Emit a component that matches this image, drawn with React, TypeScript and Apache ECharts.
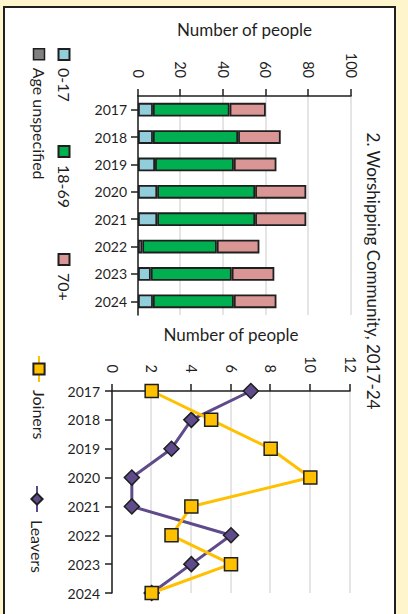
import React, { useEffect, useRef } from "react";
import * as echarts from "echarts";

const years = ["2017", "2018", "2019", "2020", "2021", "2022", "2023", "2024"];
const age0to17 = [7, 7, 8, 9, 9, 2, 6, 7];
const age18to69 = [36, 40, 37, 46, 46, 35, 38, 38];
const age70plus = [17, 20, 20, 24, 24, 20, 20, 20];
const ageUnspecified = [0, 0, 0, 0, 0, 0, 0, 0];
const joiners = [2, 5, 8, 10, 4, 3, 6, 2];
const leavers = [7, 4, 3, 1, 1, 6, 4, 2];

const TITLE = "2. Worshipping Community, 2017-24";
const FONT = "Lato, 'Open Sans', sans-serif";
const INK = "#1f1f1f";

export default function App() {
  const ref = useRef<HTMLDivElement>(null);

  useEffect(() => {
    if (!ref.current) return;
    const chart = echarts.init(ref.current, undefined, { renderer: "svg" });

    const catAxis = (gridIndex: number, boundaryGap: boolean, margin: number) => ({
      type: "category",
      gridIndex,
      data: years,
      boundaryGap,
      axisLine: { show: true, lineStyle: { color: INK, width: 1.5 } },
      axisTick: { show: true, alignWithLabel: true, length: 7, lineStyle: { color: INK, width: 1.5 } },
      axisLabel: { rotate: 90, margin, color: INK, fontSize: 14, fontFamily: FONT },
      splitLine: { show: false },
    });

    const valAxis = (gridIndex: number, max: number, interval: number, nameGap: number) => ({
      type: "value",
      gridIndex,
      min: 0,
      max,
      interval,
      name: "Number of people",
      nameLocation: "middle",
      nameRotate: 90,
      nameGap,
      nameTextStyle: { color: INK, fontSize: 17, fontFamily: FONT },
      axisLine: { show: true, lineStyle: { color: INK, width: 1.5 } },
      axisTick: { show: true, length: 7, lineStyle: { color: INK, width: 1.5 } },
      axisLabel: { margin: 18, color: INK, fontSize: 14.5, fontFamily: FONT },
      splitLine: { show: true, lineStyle: { color: "#dcdcdc", width: 1.5 } },
    });

    const barStyle = (color: string) => ({
      color,
      borderColor: INK,
      borderWidth: 1.8,
    });

    const legendBase = {
      orient: "horizontal",
      padding: 0,
      itemGap: 0,
      textStyle: { color: INK, fontSize: 16, fontFamily: FONT, padding: [0, 0, 0, 3] },
    };

    chart.setOption({
      animation: false,
      backgroundColor: "#FFF5CC",
      graphic: [
        {
          type: "rect",
          z: -10,
          shape: { x: 7, y: 13, width: 720, height: 391 },
          style: { fill: "#ffffff", stroke: INK, lineWidth: 2 },
        },
        {
          type: "text",
          x: 271,
          y: 35,
          style: {
            text: TITLE,
            fill: INK,
            fontSize: 17,
            fontFamily: FONT,
            textAlign: "center",
            textVerticalAlign: "middle",
          },
        },
      ],
      legend: [
        { ...legendBase, data: ["0-17"], left: 48, top: 336, icon: "rect", itemWidth: 11, itemHeight: 11 },
        { ...legendBase, data: ["18-69"], left: 145, top: 336, icon: "rect", itemWidth: 11, itemHeight: 11 },
        { ...legendBase, data: ["70+"], left: 253, top: 336, icon: "rect", itemWidth: 11, itemHeight: 11 },
        {
          ...legendBase,
          data: [{ name: "Age unspecified", itemStyle: { borderColor: INK, borderWidth: 1.5 } }],
          left: 48,
          top: 361,
          icon: "rect",
          itemWidth: 11,
          itemHeight: 11,
        },
        { ...legendBase, data: ["Joiners"], left: 355, top: 361, itemWidth: 26, itemHeight: 14 },
        { ...legendBase, data: ["Leavers"], left: 485, top: 363, itemWidth: 26, itemHeight: 14 },
      ],
      grid: [
        { left: 96, right: 299, top: 57, bottom: 138, containLabel: false },
        { left: 391, right: 21, top: 58, bottom: 112, containLabel: false },
      ],
      xAxis: [catAxis(0, true, 11), catAxis(1, false, 12)],
      yAxis: [valAxis(0, 100, 20, 58), valAxis(1, 12, 2, 48)],
      series: [
        { name: "0-17", type: "bar", stack: "age", xAxisIndex: 0, yAxisIndex: 0, barWidth: "50%", data: age0to17, itemStyle: barStyle("#92CDDC") },
        { name: "18-69", type: "bar", stack: "age", xAxisIndex: 0, yAxisIndex: 0, barWidth: "50%", data: age18to69, itemStyle: barStyle("#00B050") },
        { name: "70+", type: "bar", stack: "age", xAxisIndex: 0, yAxisIndex: 0, barWidth: "50%", data: age70plus, itemStyle: barStyle("#DA9694") },
        {
          name: "Age unspecified",
          type: "bar",
          stack: "age",
          xAxisIndex: 0,
          yAxisIndex: 0,
          barWidth: "50%",
          data: ageUnspecified,
          itemStyle: { color: "#808080", borderWidth: 0 },
        },
        {
          name: "Leavers",
          type: "line",
          xAxisIndex: 1,
          yAxisIndex: 1,
          data: leavers,
          z: 3,
          symbol: "diamond",
          symbolSize: 15,
          lineStyle: { color: "#5F4B8B", width: 3 },
          itemStyle: { color: "#5F4B8B", borderColor: INK, borderWidth: 1.5 },
        },
        {
          name: "Joiners",
          type: "line",
          xAxisIndex: 1,
          yAxisIndex: 1,
          data: joiners,
          z: 4,
          symbol: "rect",
          symbolSize: 13,
          lineStyle: { color: "#FFC000", width: 3 },
          itemStyle: { color: "#FFC000", borderColor: INK, borderWidth: 1.5 },
        },
      ],
    });

    return () => chart.dispose();
  }, []);

  return (
    <div
      style={{
        position: "fixed",
        left: 0,
        top: 0,
        width: 408,
        height: 614,
        overflow: "hidden",
        background: "#FFF5CC",
      }}
    >
      <div
        ref={ref}
        style={{
          position: "absolute",
          left: 0,
          top: 0,
          width: 614,
          height: 408,
          transformOrigin: "0 0",
          transform: "translate(408px, 0) rotate(90deg)",
        }}
      />
    </div>
  );
}
